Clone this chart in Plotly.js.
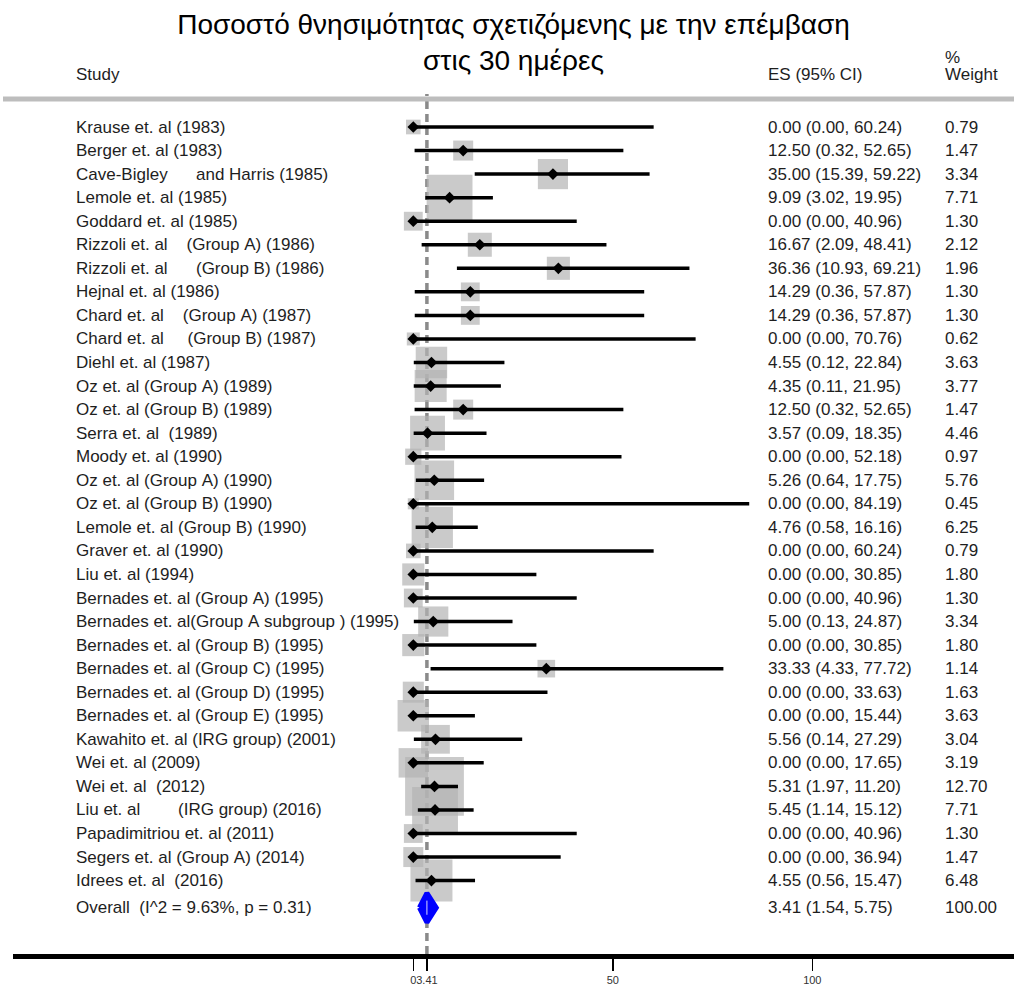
<!DOCTYPE html>
<html>
<head>
<meta charset="utf-8">
<script src="https://cdn.plot.ly/plotly-3.0.1.min.js"></script>
<style>
html,body{margin:0;padding:0;background:#fff;}
#chart{width:1014px;height:990px;}
</style>
</head>
<body>
<div id="chart"></div>
<script>
// ---------- data ----------
const chartTitle = "Ποσοστό θνησιμότητας σχετιζόμενης με την επέμβαση<br>στις 30 ημέρες";
const studies = [
  "Krause et. al (1983)",
  "Berger et. al (1983)",
  "Cave-Bigley      and Harris (1985)",
  "Lemole et. al (1985)",
  "Goddard et. al (1985)",
  "Rizzoli et. al    (Group A) (1986)",
  "Rizzoli et. al      (Group B) (1986)",
  "Hejnal et. al (1986)",
  "Chard et. al    (Group A) (1987)",
  "Chard et. al     (Group B) (1987)",
  "Diehl et. al (1987)",
  "Oz et. al (Group A) (1989)",
  "Oz et. al (Group B) (1989)",
  "Serra et. al  (1989)",
  "Moody et. al (1990)",
  "Oz et. al (Group A) (1990)",
  "Oz et. al (Group B) (1990)",
  "Lemole et. al (Group B) (1990)",
  "Graver et. al (1990)",
  "Liu et. al (1994)",
  "Bernades et. al (Group A) (1995)",
  "Bernades et. al(Group A subgroup ) (1995)",
  "Bernades et. al (Group B) (1995)",
  "Bernades et. al (Group C) (1995)",
  "Bernades et. al (Group D) (1995)",
  "Bernades et. al (Group E) (1995)",
  "Kawahito et. al (IRG group) (2001)",
  "Wei et. al (2009)",
  "Wei et. al  (2012)",
  "Liu et. al        (IRG group) (2016)",
  "Papadimitriou et. al (2011)",
  "Segers et. al (Group A) (2014)",
  "Idrees et. al  (2016)"
];
const es = [0.00,12.50,35.00,9.09,0.00,16.67,36.36,14.29,14.29,0.00,4.55,4.35,12.50,3.57,0.00,5.26,0.00,4.76,0.00,0.00,0.00,5.00,0.00,33.33,0.00,0.00,5.56,0.00,5.31,5.45,0.00,0.00,4.55];
const ciLow = [0.00,0.32,15.39,3.02,0.00,2.09,10.93,0.36,0.36,0.00,0.12,0.11,0.32,0.09,0.00,0.64,0.00,0.58,0.00,0.00,0.00,0.13,0.00,4.33,0.00,0.00,0.14,0.00,1.97,1.14,0.00,0.00,0.56];
const ciHigh = [60.24,52.65,59.22,19.95,40.96,48.41,69.21,57.87,57.87,70.76,22.84,21.95,52.65,18.35,52.18,17.75,84.19,16.16,60.24,30.85,40.96,24.87,30.85,77.72,33.63,15.44,27.29,17.65,11.20,15.12,40.96,36.94,15.47];
const weights = [0.79,1.47,3.34,7.71,1.30,2.12,1.96,1.30,1.30,0.62,3.63,3.77,1.47,4.46,0.97,5.76,0.45,6.25,0.79,1.80,1.30,3.34,1.80,1.14,1.63,3.63,3.04,3.19,12.70,7.71,1.30,1.47,6.48];
const overallLabel = "Overall  (I^2 = 9.63%, p = 0.31)";
const overallES = 3.41;
const overallLow = 1.54;
const overallHigh = 5.75;
const overallWeight = 100.00;
const headerStudy = "Study";
const headerES = "ES (95% CI)";
const headerPct = "%";
const headerWeight = "Weight";
const tickVals = [0, 3.41, 50, 100];
const tickText = ["0", "3.41", "50", "100"];

// ---------- layout helpers ----------
const W = 1014, H = 990;
const M = {l: 13, r: 0, t: 99, b: 36};
const pw = W - M.l - M.r, ph = H - M.t - M.b;
const px = x => (x - M.l) / pw;          // page px -> paper x
const py = y => (H - M.b - y) / ph;      // page px -> paper y
const nbsp = s => s.replace(/ /g, "\u00a0");
const fmt = v => v.toFixed(2);

const n = studies.length;
const rows = studies.map((_, i) => i);
const overallRow = n + 0.15;

const textFont = {family: "Liberation Sans, Arial, sans-serif", size: 17, color: "#1e1e1e"};

// ---------- traces ----------
const boxes = {
  type: "scatter", mode: "markers", x: es, y: rows, hoverinfo: "skip",
  marker: {symbol: "square", color: "#b4b4b4", size: weights.map(w => 16.5 * Math.sqrt(w)), line: {width: 0}}
};
const ciX = [], ciY = [];
es.forEach((_, i) => { ciX.push(ciLow[i], ciHigh[i], null); ciY.push(i, i, null); });
const ciLines = {
  type: "scatter", mode: "lines", x: ciX, y: ciY, hoverinfo: "skip",
  line: {color: "#000000", width: 3.5}
};
const points = {
  type: "scatter", mode: "markers", x: es, y: rows, hoverinfo: "skip",
  marker: {symbol: "diamond", color: "#000000", size: 9}
};
const dh = 0.62;
const diamond = {
  type: "scatter", mode: "lines", fill: "toself", hoverinfo: "skip",
  x: [overallLow, overallES, overallHigh, overallES, overallLow],
  y: [overallRow, overallRow - dh, overallRow, overallRow + dh, overallRow],
  fillcolor: "#0000ff", line: {color: "#0000ff", width: 5}
};

// ---------- annotations ----------
const ann = [];
const colStudy = px(74), colES = px(766), colW = px(943);
function addText(text, x, y, yref) {
  ann.push({text: text, x: x, y: y, xref: "paper", yref: yref, xanchor: "left", yanchor: "middle",
    showarrow: false, font: textFont, align: "left"});
}
studies.forEach((s, i) => {
  addText(nbsp(s), colStudy, i, "y");
  addText(`${fmt(es[i])} (${fmt(ciLow[i])}, ${fmt(ciHigh[i])})`, colES, i, "y");
  addText(fmt(weights[i]), colW, i, "y");
});
addText(nbsp(overallLabel), colStudy, overallRow, "y");
addText(`${fmt(overallES)} (${fmt(overallLow)}, ${fmt(overallHigh)})`, colES, overallRow, "y");
addText(fmt(overallWeight), colW, overallRow, "y");
addText(headerStudy, colStudy, py(74), "paper");
addText(headerES, colES, py(74), "paper");
addText(headerPct, colW, py(58), "paper");
addText(headerWeight, colW, py(75), "paper");

// ---------- shapes ----------
const shapes = [
  {type: "line", xref: "x", yref: "paper", x0: overallES, x1: overallES, y0: 0, y1: py(94),
   line: {color: "#8a8a8a", width: 3.5, dash: "8px,5px"}, layer: "below"},
  {type: "line", xref: "paper", yref: "paper", x0: px(3), x1: px(1014), y0: 1, y1: 1,
   line: {color: "#bdbdbd", width: 5}, layer: "above"},
  {type: "line", xref: "x", yref: "y", x0: overallES, x1: overallES, y0: overallRow - 0.3, y1: overallRow + 0.3,
   line: {color: "#d8d8ff", width: 1}, layer: "above"}
];

const layout = {
  width: W, height: H,
  margin: M,
  paper_bgcolor: "#ffffff", plot_bgcolor: "#ffffff",
  showlegend: false,
  title: {text: chartTitle, x: 0.5, xanchor: "center", xref: "paper", y: 1 - 34 / H, yanchor: "top", yref: "container",
    font: {family: "Liberation Sans, Arial, sans-serif", size: 28, color: "#000000"}},
  xaxis: {range: [(M.l - 413.3) / 3.99, (W - 413.3) / 3.99], showgrid: false, zeroline: false,
    showline: true, linecolor: "#000000", linewidth: 5,
    ticks: "outside", ticklen: 12, tickwidth: 1.5, tickcolor: "#000000",
    tickvals: tickVals, ticktext: tickText, tickangle: 0,
    tickfont: {family: "Liberation Sans, Arial, sans-serif", size: 11, color: "#333333"},
    fixedrange: true},
  yaxis: {range: [(H - M.b - 127) / 23.55, (M.t - 127) / 23.55], visible: false, showgrid: false, zeroline: false, fixedrange: true},
  annotations: ann,
  shapes: shapes
};

Plotly.newPlot("chart", [boxes, ciLines, points, diamond], layout, {displayModeBar: false, staticPlot: true});
</script>
</body>
</html>
